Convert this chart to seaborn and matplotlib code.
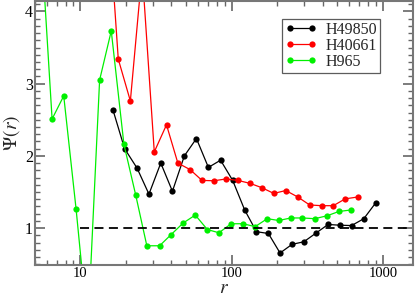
import numpy as np
import pandas as pd
import seaborn as sns
import matplotlib
matplotlib.use('Agg')
import matplotlib.pyplot as plt
from matplotlib.ticker import LogLocator, NullFormatter, MultipleLocator

# data
r_black = [16.4, 19.6, 23.7, 28.4, 34.0, 40.6, 48.7, 58.5, 70.2, 84.5, 101.6, 122,
           146, 175, 209, 251, 300, 361, 434, 517, 621, 748, 897]
psi_black = [2.64, 2.10, 1.83, 1.47, 1.90, 1.51, 2.00, 2.24, 1.84, 1.94, 1.66, 1.25,
             0.95, 0.925, 0.655, 0.775, 0.81, 0.93, 1.05, 1.04, 1.035, 1.13, 1.35]

r_red = [14.8, 17.8, 21.4, 25.6, 30.8, 37.1, 44.1, 53.1, 63.7, 76.4, 91.6, 110, 132,
         158, 190, 228, 274, 328, 394, 470, 564, 680]
psi_red = [5.8, 3.34, 2.76, 4.56, 2.055, 2.43, 1.90, 1.81, 1.66, 1.655, 1.68, 1.66, 1.62,
           1.56, 1.48, 1.52, 1.43, 1.32, 1.31, 1.31, 1.405, 1.43]

r_green = [5.42, 6.50, 7.76, 9.37, 11.2, 13.4, 16.0, 19.4, 23.2, 27.5, 33.4, 39.8, 47.8,
           57.5, 69.1, 82.4, 99.3, 119, 143, 172, 205, 246, 294, 354, 427, 512, 611]
psi_green = [5.2, 2.51, 2.83, 1.26, -0.4, 3.05, 3.73, 2.16, 1.46, 0.755, 0.755, 0.91, 1.07,
             1.18, 0.98, 0.935, 1.06, 1.06, 1.02, 1.13, 1.105, 1.14, 1.14, 1.13, 1.17, 1.23, 1.25]

labels = ['H49850', 'H40661', 'H965']
colors = ['#000000', '#ff0000', '#00f000']

df = pd.concat([
    pd.DataFrame({'r': r_black, 'psi': psi_black, 'set': labels[0]}),
    pd.DataFrame({'r': r_red, 'psi': psi_red, 'set': labels[1]}),
    pd.DataFrame({'r': r_green, 'psi': psi_green, 'set': labels[2]}),
])

sns.set_style('ticks')
plt.rcParams['font.family'] = ['Liberation Serif', 'DejaVu Serif']
plt.rcParams['mathtext.fontset'] = 'stix'

fig = plt.figure(figsize=(4.15, 2.95), dpi=100)
ax = fig.add_axes([0.084, 0.102, 0.911, 0.896])

for lab, col in zip(labels, colors):
    sub = df[df['set'] == lab]
    sns.lineplot(data=sub, x='r', y='psi', ax=ax, color=col, lw=0.9, marker='o',
                 markersize=4.5, markeredgewidth=0, label=lab, sort=False,
                 estimator=None)

ax.hlines(1.0, 10, 1600, colors='black', linestyles=(0, (5, 3)), lw=1.3)

ax.set_xscale('log')
ax.set_xlim(5.0, 1580)
ax.set_ylim(0.49, 4.15)
ax.yaxis.set_major_locator(MultipleLocator(1))
ax.yaxis.set_minor_locator(MultipleLocator(0.1))
ax.xaxis.set_minor_locator(LogLocator(base=10, subs=np.arange(2, 10)))
ax.xaxis.set_minor_formatter(NullFormatter())
ax.set_xticks([10, 100, 1000])
ax.set_xticklabels(['10', '100', '1000'])
ax.set_yticks([1, 2, 3, 4])
ax.set_yticklabels(['1', '2', '3', '4'])

ax.tick_params(which='both', direction='in', top=True, right=True, colors='#666666',
               labelcolor='black', labelsize=10.5, pad=1.5)
ax.tick_params(axis='y', labelsize=11.5)
ax.tick_params(which='major', length=7, width=1.2)
ax.tick_params(which='minor', length=3.5, width=1.0)
for sp in ax.spines.values():
    sp.set_color('#777777')
    sp.set_linewidth(1.5)

ax.set_xlabel(r'$r$', fontsize=14, va='baseline')
ax.xaxis.set_label_coords(0.5, -0.106)
ax.set_ylabel(r'$\Psi(r)$', fontsize=14, labelpad=2)

leg = ax.legend(loc='upper right', bbox_to_anchor=(0.913, 0.932), fontsize=11.5,
                frameon=True, fancybox=False, edgecolor='#333333', handlelength=2.0,
                handletextpad=0.5, borderpad=0.2, labelspacing=0.0, borderaxespad=0,
                numpoints=2)
leg.get_frame().set_linewidth(0.9)

fig.savefig('out.png', dpi=100)
